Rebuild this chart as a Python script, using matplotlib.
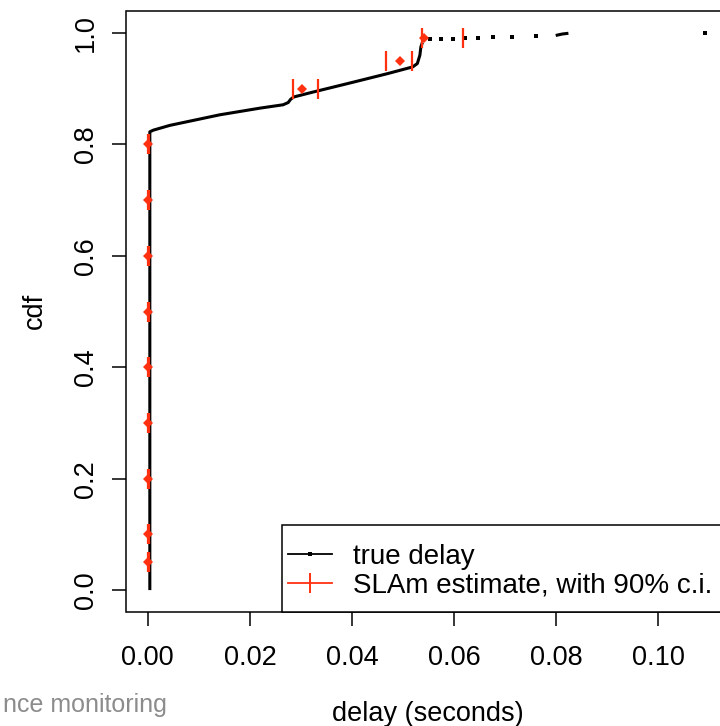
import matplotlib
matplotlib.use("Agg")
import matplotlib.pyplot as plt
from matplotlib.lines import Line2D
from matplotlib.patches import Rectangle

plt.rcParams["font.family"] = ["Liberation Sans", "DejaVu Sans"]

# true delay cdf, dense part
curve_x = [0.0004, 0.0004, 0.0011, 0.0043, 0.0141, 0.0220, 0.0265, 0.0275,
           0.0280, 0.0286, 0.0320, 0.0400, 0.0470, 0.0519, 0.0528, 0.0533,
           0.0535, 0.0538]
curve_y = [0.000, 0.8225, 0.8255, 0.834, 0.853, 0.865, 0.871, 0.875,
           0.881, 0.885, 0.893, 0.911, 0.927, 0.939, 0.945, 0.960,
           0.975, 0.983]

# sparse tail of the true delay cdf
tail_x = [0.0553, 0.0574, 0.0598, 0.0621, 0.0647, 0.0677, 0.0713, 0.0760, 0.1092]
tail_y = [0.9885, 0.989, 0.9895, 0.990, 0.991, 0.992, 0.993, 0.994, 1.000]
knee_x = [0.0802, 0.0812, 0.0821]
knee_y = [0.996, 0.998, 0.999]

# SLAm quantile estimates with 90% c.i.
quantiles = [0.05, 0.1, 0.2, 0.3, 0.4, 0.5, 0.6, 0.7, 0.8, 0.9, 0.95, 0.99]
est = [0.0001] * 9 + [0.0303, 0.0494, 0.0541]
ci_lo = [0.0000] * 9 + [0.0285, 0.0467, 0.0538]
ci_hi = [0.0002] * 9 + [0.0334, 0.0518, 0.0618]

xticks = [0.00, 0.02, 0.04, 0.06, 0.08, 0.10]
xticklabels = ["0.00", "0.02", "0.04", "0.06", "0.08", "0.10"]
yticks = [0.0, 0.2, 0.4, 0.6, 0.8, 1.0]
yticklabels = ["0.0", "0.2", "0.4", "0.6", "0.8", "1.0"]

RED = "#ff3010"
W, H = 720, 726

fig = plt.figure(figsize=(W / 100, H / 100), dpi=100)
left, right, top, bottom = 126.5, 730, 10.5, 612
aw, ah = right - left, bottom - top
ax = fig.add_axes([left / W, 1 - bottom / H, aw / W, ah / H])

ax.plot(curve_x, curve_y, color="black", lw=2.2, solid_capstyle="butt")
ax.plot(knee_x, knee_y, color="black", lw=2.2)
ax.plot(tail_x, tail_y, ls="none", marker="s", ms=2.2, color="black", mew=0)

ax.plot(ci_lo, quantiles, ls="none", marker="|", ms=14.5, mew=1.6, color=RED)
ax.plot(ci_hi, quantiles, ls="none", marker="|", ms=14.5, mew=1.6, color=RED)
ax.plot(est, quantiles, ls="none", marker="D", ms=5.2, mew=0, color=RED)

ax.set_xlim(-0.00417, 0.11405)
ax.set_ylim(-0.0393, 1.0402)
ax.set_xticks(xticks)
ax.set_xticklabels(xticklabels)
ax.set_yticks(yticks)
ax.set_yticklabels(yticklabels, rotation=90, va="center")

for sp in ax.spines.values():
    sp.set_linewidth(1.1)
ax.tick_params(axis="both", length=10, width=1.1, labelsize=19.5)
ax.tick_params(axis="x", pad=14)
ax.tick_params(axis="y", pad=10)

ax.set_xlabel("delay (seconds)", fontsize=19.5)
ax.set_ylabel("cdf", fontsize=19.5)
ax.xaxis.set_label_coords(0.5, -0.148)
ax.yaxis.set_label_coords(-0.131, 0.5)

# legend box (bottom right, runs past the cropped right edge)
ax.add_patch(Rectangle(((282 - left) / aw, 0.0), 1.0, (bottom - 525) / ah,
                       transform=ax.transAxes, facecolor="white",
                       edgecolor="black", lw=1.1, clip_on=False, zorder=4))
handles = [
    Line2D([], [], color="black", lw=1.3, marker="s", ms=2.5, mew=0),
    Line2D([], [], color=RED, lw=1.3, marker="|", ms=14, mew=1.4),
]
ax.legend(handles, ["true delay", "SLAm estimate, with 90% c.i."],
          loc="lower left", bbox_to_anchor=((288 - left) / aw, (bottom - 599) / ah),
          borderaxespad=0, borderpad=0, fontsize=20, frameon=False,
          handlelength=1.58, handletextpad=0.755, labelspacing=0.12)

fig.text(167 / W, 1 - 712 / H, "nce monitoring", ha="right", va="baseline",
         color="#8c8c8c", fontsize=18)

fig.savefig("out.png", dpi=100)
